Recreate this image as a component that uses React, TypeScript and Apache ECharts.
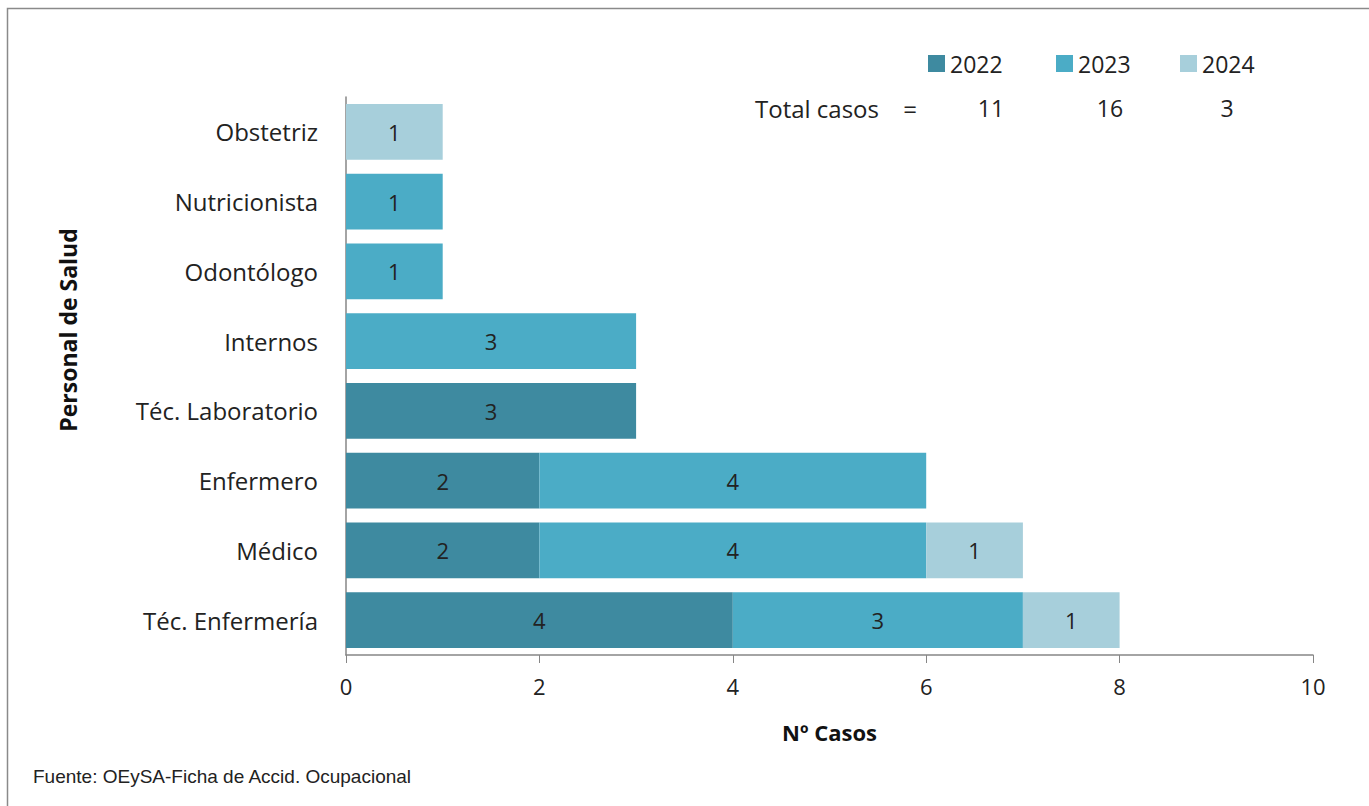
import React, { useEffect, useRef } from "react";
import * as echarts from "echarts";

const categories = ["Téc. Enfermería", "Médico", "Enfermero", "Téc. Laboratorio", "Internos", "Odontólogo", "Nutricionista", "Obstetriz"];
const years = ["2022", "2023", "2024"];
const values2022 = [4, 2, 2, 3, 0, 0, 0, 0];
const values2023 = [3, 4, 4, 0, 3, 1, 1, 0];
const values2024 = [1, 1, 0, 0, 0, 0, 0, 1];
const xTicks = [0, 2, 4, 6, 8, 10];
const colors = ["#3e8aa0", "#4bacc6", "#a7cfdb"];

const FONT = "'Open Sans', Lato, sans-serif";

export default function App() {
  const ref = useRef<HTMLDivElement>(null);
  useEffect(() => {
    const chart = echarts.init(ref.current!, undefined, { renderer: "svg" });
    const seriesValues = [values2022, values2023, values2024];
    const totals = seriesValues.map((a) => a.reduce((s, v) => s + v, 0));
    const legendLefts = [928, 1056, 1180];
    const totalXs = [991, 1110, 1227];
    chart.setOption({
      animation: false,
      color: colors,
      grid: { left: 346, right: 56, top: 97, bottom: 151, containLabel: false },
      legend: years.map((y, i) => ({
        data: [y],
        left: legendLefts[i],
        top: 52,
        padding: 0,
        itemWidth: 17,
        itemHeight: 17,
        itemGap: 4,
        icon: "rect",
        textStyle: { fontFamily: FONT, fontSize: 23, color: "#222", padding: [0, 0, 0, 0] },
        selectedMode: false,
      })),
      xAxis: {
        type: "value",
        min: xTicks[0],
        max: xTicks[xTicks.length - 1],
        interval: 2,
        name: "Nº Casos",
        nameLocation: "middle",
        nameGap: 66,
        nameTextStyle: { fontFamily: FONT, fontSize: 22, fontWeight: "bold", color: "#111" },
        axisLine: { show: true, lineStyle: { color: "#868686", width: 1.5 } },
        axisTick: { show: true, length: 8, lineStyle: { color: "#868686" } },
        axisLabel: { fontFamily: FONT, fontSize: 22, color: "#222", margin: 20 },
        splitLine: { show: false },
      },
      yAxis: {
        type: "category",
        data: categories,
        axisLine: { show: true, lineStyle: { color: "#868686", width: 1.5 } },
        axisTick: { show: false },
        axisLabel: { fontFamily: FONT, fontSize: 24, color: "#222", margin: 28 },
      },
      series: years.map((y, i) => ({
        name: y,
        type: "bar",
        stack: "total",
        barCategoryGap: "20%",
        data: seriesValues[i],
        itemStyle: { color: colors[i] },
        label: {
          show: true,
          position: "inside",
          fontFamily: FONT,
          fontSize: 22,
          color: "#222",
          formatter: (p: any) => (p.value ? String(p.value) : ""),
        },
      })),
      graphic: [
        {
          type: "rect",
          shape: { x: 7.5, y: 8.5, width: 1400, height: 900 },
          style: { fill: "none", stroke: "#8a8a8a", lineWidth: 1.5 },
          silent: true,
        },
        {
          type: "text",
          x: 68,
          y: 330,
          rotation: Math.PI / 2,
          style: {
            text: "Personal de Salud",
            fontFamily: FONT,
            fontSize: 23,
            fontWeight: "bold",
            fill: "#111",
            align: "center",
            verticalAlign: "middle",
          },
        },
        {
          type: "text",
          x: 755,
          y: 108,
          style: { text: "Total casos", fontFamily: FONT, fontSize: 24, fill: "#222", align: "left", verticalAlign: "middle" },
        },
        {
          type: "text",
          x: 910,
          y: 108,
          style: { text: "=", fontFamily: FONT, fontSize: 24, fill: "#222", align: "center", verticalAlign: "middle" },
        },
        ...totals.map((t, i) => ({
          type: "text",
          x: totalXs[i],
          y: 108,
          style: { text: String(t), fontFamily: FONT, fontSize: 23, fill: "#222", align: "center", verticalAlign: "middle" },
        })),
        {
          type: "text",
          x: 33,
          y: 776,
          style: {
            text: "Fuente: OEySA-Ficha de Accid. Ocupacional",
            fontFamily: "'Liberation Sans', Arial, sans-serif",
            fontSize: 19,
            fill: "#222",
            align: "left",
            verticalAlign: "middle",
          },
        },
      ],
    });
    return () => chart.dispose();
  }, []);
  return (
    <div
      ref={ref}
      style={{ position: "absolute", left: 0, top: 0, width: 1369, height: 806, background: "#fff" }}
    />
  );
}
